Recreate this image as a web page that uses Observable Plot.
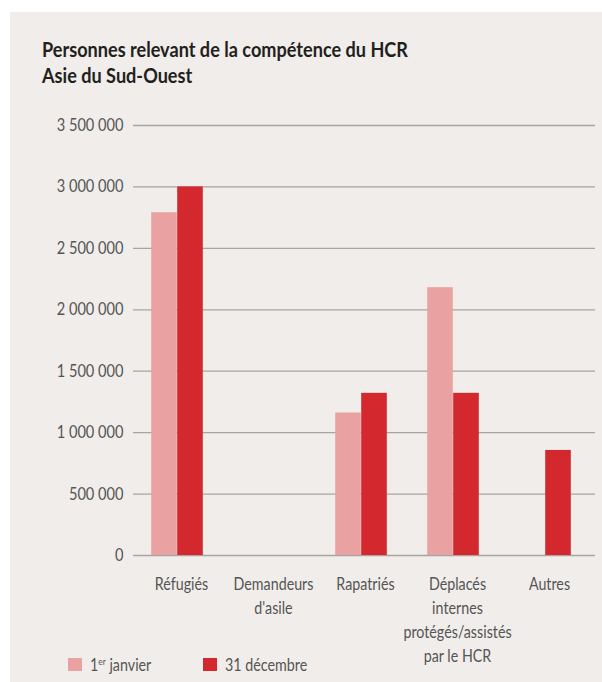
<!DOCTYPE html>
<html>
<head>
<meta charset="utf-8">
<script src="https://cdn.jsdelivr.net/npm/d3@7"></script>
<script src="https://cdn.jsdelivr.net/npm/@observablehq/plot@0.6"></script>
<style>
  html, body { margin: 0; padding: 0; background: #ffffff; }
  body { width: 602px; height: 682px; position: relative; overflow: hidden; font-family: Lato, "Open Sans", sans-serif; }
  #paper { position: absolute; left: 10px; top: 12px; width: 592px; height: 670px; background: #f0edea; }
  #title { position: absolute; left: 42px; top: 36px; font-weight: bold; font-size: 21px; line-height: 26px; color: #231f20; white-space: nowrap; transform-origin: 0 0; }
  #chart { position: absolute; left: 0; top: 100px; }
  #legend { position: absolute; left: 68px; top: 654px; font-size: 17px; color: #555; }
  .item { position: absolute; top: 0; display: flex; align-items: center; white-space: nowrap; }
  .sw { display: inline-block; width: 14px; height: 13px; }
  .lab { display: inline-block; transform: scaleX(0.84); transform-origin: 0 50%; margin-left: 8px; }
  sup { font-size: 10px; vertical-align: 6px; line-height: 0; }
</style>
</head>
<body>
<div id="paper"></div>
<div id="title">Personnes relevant de la compétence du HCR<br>Asie du Sud-Ouest</div>
<div id="chart"></div>
<div id="legend"></div>
<script>
const categories = ["Réfugiés", "Demandeurs\nd'asile", "Rapatriés", "Déplacés\ninternes\nprotégés/assistés\npar le HCR", "Autres"];
const janvier = [2790000, 0, 1160000, 2180000, 0];
const decembre = [3000000, 0, 1320000, 1320000, 855000];
const yTicks = [0, 500000, 1000000, 1500000, 2000000, 2500000, 3000000, 3500000];
const seriesNames = ["1er janvier", "31 décembre"];
const seriesColors = ["#e9a2a1", "#d2282e"];

const janData = categories.map((c, i) => ({category: c, value: janvier[i]}));
const decData = categories.map((c, i) => ({category: c, value: decembre[i]}));

const fr = d3.formatLocale({decimal: ",", thousands: " ", grouping: [3], currency: ["", " €"]});
const fmt = fr.format(",d");

const chart = Plot.plot({
  width: 602,
  height: 582,
  marginTop: 25,
  marginBottom: 127,
  marginLeft: 133,
  marginRight: 7,
  style: {background: "transparent", fontFamily: "Lato, Open Sans, sans-serif", color: "#555"},
  x: {domain: categories, range: [130, 592], padding: 0, label: null},
  y: {domain: [0, 3500000], label: null},
  marks: [
    Plot.gridY(yTicks, {stroke: "#a8a4a0", strokeOpacity: 1, strokeWidth: 1.3}),
    Plot.axisY(yTicks, {tickSize: 0, tickPadding: 10, tickFormat: fmt, fontSize: 17, fill: "#555", label: null}),
    Plot.axisX({tickSize: 0, tickPadding: 18, dx: 4, fontSize: 17, lineHeight: 1.4, fill: "#555", label: null}),
    Plot.barY(janData, {x: "category", y: "value", fill: seriesColors[0], insetLeft: 20.2, insetRight: 46.2}),
    Plot.barY(decData, {x: "category", y: "value", fill: seriesColors[1], insetLeft: 46.2, insetRight: 20.2})
  ]
});
document.getElementById("chart").appendChild(chart);

// condense the chart's text horizontally around each label's anchor
chart.querySelectorAll("text").forEach(t => {
  let x = parseFloat(t.getAttribute("x"));
  if (!isFinite(x)) x = 0;
  const g = t.closest("g[aria-label]");
  const isY = g && /y-axis/.test(g.getAttribute("aria-label"));
  const s = isY ? 0.86 : 0.84;
  const tr = t.getAttribute("transform") || "";
  t.setAttribute("transform", `${tr} translate(${x},0) scale(${s},1) translate(${-x},0)`.trim());
});

// title condensed to the reference width
const title = document.getElementById("title");
const tw = title.getBoundingClientRect().width;
title.style.transform = `scaleX(${366 / tw})`;

const legend = document.getElementById("legend");
const legendX = [0, 135];
seriesNames.forEach((name, i) => {
  const item = document.createElement("div");
  item.className = "item";
  item.style.left = legendX[i] + "px";
  const sw = document.createElement("span");
  sw.className = "sw";
  sw.style.background = seriesColors[i];
  item.appendChild(sw);
  const label = document.createElement("span");
  label.className = "lab";
  if (name.startsWith("1er")) {
    label.innerHTML = "1<sup>er</sup>" + name.slice(3);
  } else {
    label.textContent = name;
  }
  item.appendChild(label);
  legend.appendChild(item);
});
</script>
</body>
</html>
